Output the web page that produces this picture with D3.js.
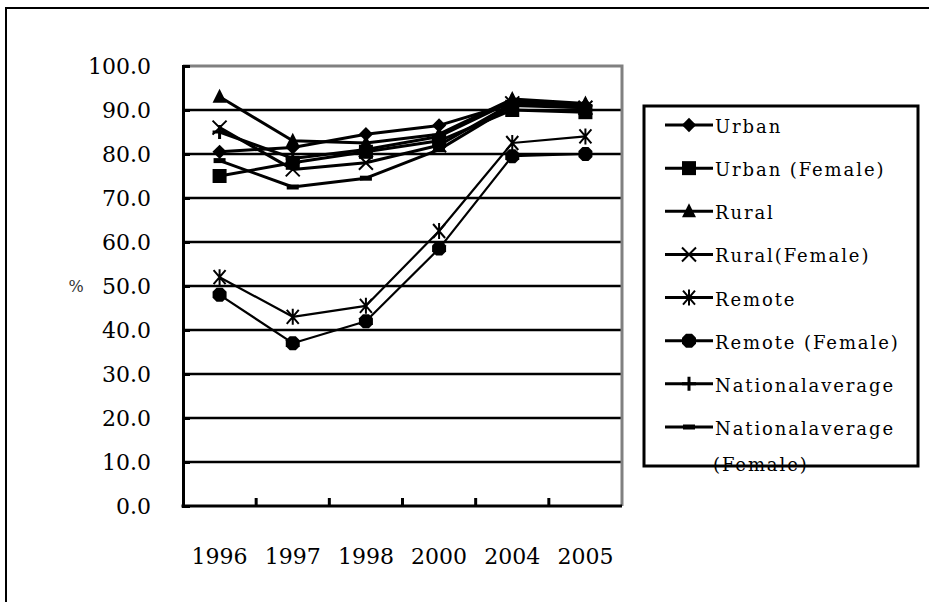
<!DOCTYPE html>
<html>
<head>
<meta charset="utf-8">
<script src="https://cdn.jsdelivr.net/npm/d3@7"></script>
<style>
  html, body { margin: 0; padding: 0; background: #fff; }
  svg { display: block; }
</style>
</head>
<body>
<script>
const years = ['1996', '1997', '1998', '2000', '2004', '2005'];
const yTicks = [0, 10, 20, 30, 40, 50, 60, 70, 80, 90, 100];

const seriesNames = ['Urban', 'Urban (Female)', 'Rural', 'Rural(Female)', 'Remote', 'Remote (Female)', 'Nationalaverage', 'Nationalaverage (Female)'];
const urban = [80.5, 81.5, 84.5, 86.5, 91.5, 91.0];
const urbanFemale = [75.0, 78.0, 80.5, 83.0, 90.0, 89.5];
const rural = [93.0, 83.0, 82.5, 84.5, 92.5, 91.5];
const ruralFemale = [86.0, 76.5, 78.0, 82.0, 91.5, 90.5];
const remote = [52.0, 43.0, 45.5, 62.5, 82.5, 84.0];
const remoteFemale = [48.0, 37.0, 42.0, 58.5, 79.5, 80.0];
const nationalAverage = [85.0, 79.0, 81.0, 84.0, 92.0, 91.0];
const nationalAverageFemale = [78.5, 72.5, 74.5, 81.0, 91.0, 90.5];

const markers = ['diamond', 'square', 'triangle', 'x', 'asterisk', 'circle', 'plus', 'dash'];

const series = [urban, urbanFemale, rural, ruralFemale, remote, remoteFemale, nationalAverage, nationalAverageFemale]
  .map((values, i) => ({ name: seriesNames[i], marker: markers[i], values }));

const width = 929;
const height = 602;
const plot = { left: 183, top: 66, right: 622, bottom: 506 };
const serif = '"DejaVu Serif", "Liberation Serif", serif';

const svg = d3.select('body').append('svg')
  .attr('width', width)
  .attr('height', height);

// outer chart border (runs off the picture on the right and bottom)
svg.append('rect')
  .attr('x', 6).attr('y', 8)
  .attr('width', 1200).attr('height', 1200)
  .attr('fill', 'none')
  .attr('stroke', '#000')
  .attr('stroke-width', 2);

const x = d3.scaleBand().domain(years).range([plot.left, plot.right]);
const y = d3.scaleLinear().domain([0, 100]).range([plot.bottom, plot.top]);

// gridlines
svg.append('g')
  .selectAll('line')
  .data(yTicks.filter(d => d > 0 && d < 100))
  .join('line')
  .attr('x1', plot.left).attr('x2', plot.right)
  .attr('y1', d => y(d)).attr('y2', d => y(d))
  .attr('stroke', '#000')
  .attr('stroke-width', 2.5);

// top and right border of the plot area
svg.append('path')
  .attr('d', `M${plot.left},${plot.top}H${plot.right}V${plot.bottom}`)
  .attr('fill', 'none')
  .attr('stroke', '#808080')
  .attr('stroke-width', 3);

// y axis
const yAxis = svg.append('g')
  .attr('transform', `translate(${plot.left},0)`)
  .call(d3.axisLeft(y).tickValues(yTicks).tickSize(-7).tickPadding(32).tickFormat(d3.format('.1f')));
yAxis.select('.domain').attr('stroke', '#000').attr('stroke-width', 3);
yAxis.selectAll('.tick line').attr('stroke', '#000').attr('stroke-width', 3);
yAxis.selectAll('.tick text')
  .attr('dy', '0.36em')
  .style('font-family', serif)
  .style('font-size', '22px')
  .attr('fill', '#000');

svg.append('text')
  .attr('x', 76).attr('y', y(50))
  .attr('dy', '0.35em')
  .attr('text-anchor', 'middle')
  .style('font-family', serif)
  .style('font-size', '16px')
  .attr('fill', '#333')
  .text('%');

// x axis: ticks sit on category boundaries and point into the plot
const xAxis = svg.append('g')
  .attr('transform', `translate(0,${plot.bottom})`);
xAxis.append('line')
  .attr('x1', plot.left - 1.5).attr('x2', plot.right)
  .attr('y1', 0).attr('y2', 0)
  .attr('stroke', '#000').attr('stroke-width', 3);
xAxis.selectAll('line.tk')
  .data(years.slice(1))
  .join('line')
  .attr('class', 'tk')
  .attr('x1', d => x(d)).attr('x2', d => x(d))
  .attr('y1', 0).attr('y2', -8)
  .attr('stroke', '#000').attr('stroke-width', 3);
xAxis.selectAll('text')
  .data(years)
  .join('text')
  .attr('x', d => x(d) + x.bandwidth() / 2)
  .attr('y', 58)
  .attr('text-anchor', 'middle')
  .style('font-family', serif)
  .style('font-size', '22px')
  .attr('fill', '#000')
  .text(d => d);

const cx = d => x(d) + x.bandwidth() / 2;

function drawMarker(g, type) {
  switch (type) {
    case 'diamond':
      g.append('path').attr('d', d3.symbol(d3.symbolDiamond2, 130)()).attr('fill', '#000');
      break;
    case 'square':
      g.append('rect').attr('x', -7).attr('y', -7).attr('width', 14).attr('height', 14).attr('fill', '#000');
      break;
    case 'triangle':
      g.append('path').attr('d', 'M0,-8L7,6L-7,6Z').attr('fill', '#000');
      break;
    case 'x':
      g.append('path').attr('d', 'M-7,-7L7,7M-7,7L7,-7').attr('stroke', '#000').attr('stroke-width', 2).attr('fill', 'none');
      break;
    case 'asterisk':
      g.append('path').attr('d', 'M-6,-7L6,7M-6,7L6,-7M0,-8V8').attr('stroke', '#000').attr('stroke-width', 2).attr('fill', 'none');
      break;
    case 'circle':
      g.append('path').attr('d', 'M-3,-7H3L7,-3V3L3,7H-3L-7,3V-3Z').attr('fill', '#000');
      break;
    case 'plus':
      g.append('path').attr('d', 'M-7,0H7M0,-7V7').attr('stroke', '#000').attr('stroke-width', 3).attr('fill', 'none');
      break;
    case 'dash':
      g.append('rect').attr('x', -6).attr('y', -2.5).attr('width', 12).attr('height', 5).attr('fill', '#000');
      break;
    default:
      break;
  }
}

const line = d3.line()
  .x((d, i) => cx(years[i]))
  .y(d => y(d));

const seriesG = svg.append('g')
  .selectAll('g')
  .data(series)
  .join('g');

seriesG.append('path')
  .attr('d', d => line(d.values))
  .attr('fill', 'none')
  .attr('stroke', '#000')
  .attr('stroke-width', d => (d.marker === 'asterisk' || d.marker === 'circle') ? 2.2 : 3)
  .attr('stroke-linejoin', 'round');

seriesG.each(function (s) {
  d3.select(this).selectAll('g.pt')
    .data(s.values)
    .join('g')
    .attr('class', 'pt')
    .attr('transform', (d, i) => `translate(${cx(years[i])},${y(d)})`)
    .each(function () { drawMarker(d3.select(this), s.marker); });
});

// legend
const legend = svg.append('g');
legend.append('rect')
  .attr('x', 644).attr('y', 106)
  .attr('width', 274).attr('height', 360)
  .attr('fill', '#fff')
  .attr('stroke', '#000')
  .attr('stroke-width', 3);

const rowY = d3.scalePoint().domain(seriesNames).range([125, 427]);

const rows = legend.selectAll('g.row')
  .data(series)
  .join('g')
  .attr('class', 'row')
  .attr('transform', d => `translate(0,${rowY(d.name)})`);

rows.append('line')
  .attr('x1', 665).attr('x2', 713)
  .attr('y1', 0).attr('y2', 0)
  .attr('stroke', '#000').attr('stroke-width', 3);

rows.append('g')
  .attr('transform', 'translate(689,0)')
  .each(function (d) { drawMarker(d3.select(this), d.marker); });

rows.append('text')
  .attr('x', 715)
  .attr('y', 8)
  .style('font-family', serif)
  .style('font-size', '18px')
  .style('letter-spacing', '1.9px')
  .attr('fill', '#000')
  .each(function (d) {
    const t = d3.select(this);
    const parts = d.name.split(' (Female)');
    if (d.name.startsWith('Nationalaverage') && parts.length > 1) {
      t.append('tspan').attr('x', 715).text(parts[0]);
      t.append('tspan').attr('x', 713).attr('dy', 36).text('(Female)');
    } else {
      t.text(d.name);
    }
  });
</script>
</body>
</html>
